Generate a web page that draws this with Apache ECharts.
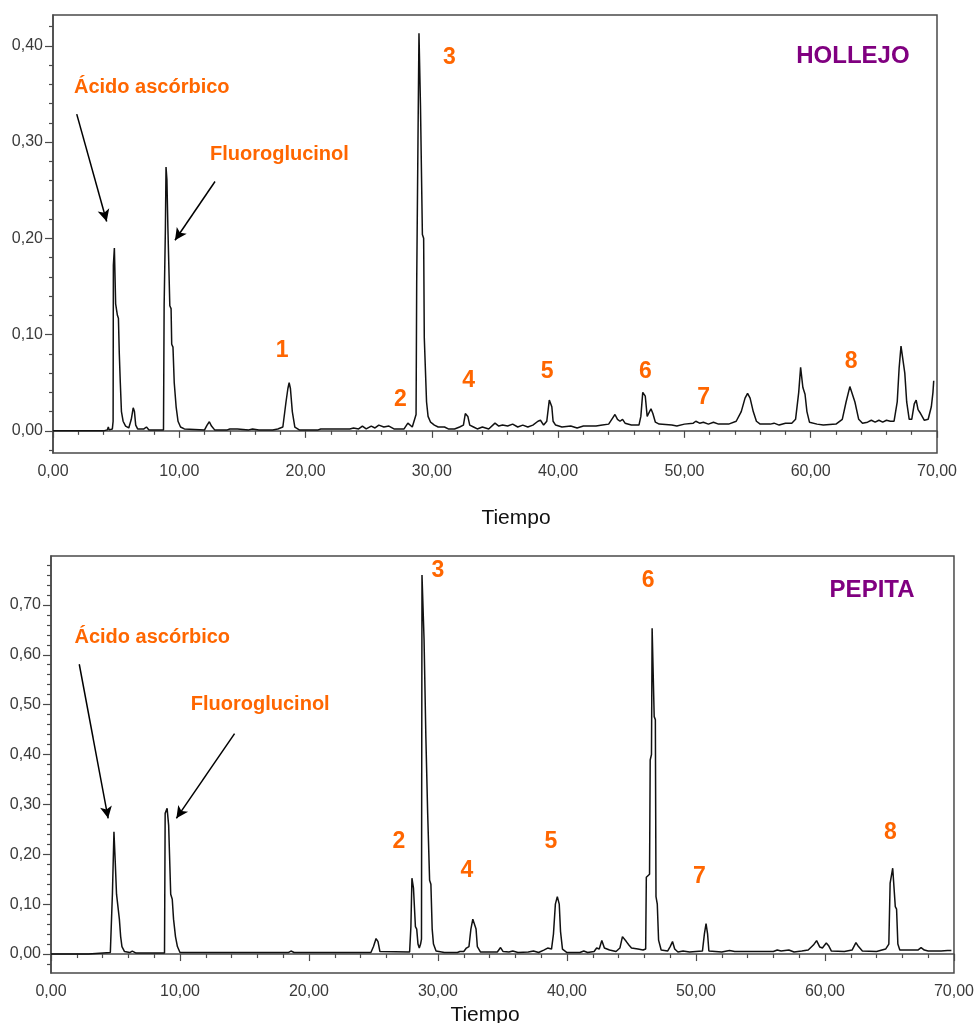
<!DOCTYPE html>
<html>
<head>
<meta charset="utf-8">
<title>Cromatogramas hollejo / pepita</title>
<script src="https://cdn.jsdelivr.net/npm/echarts@6/dist/echarts.min.js"></script>
<style>
    html, body { margin: 0; padding: 0; background: #fff; }
    #chart { width: 977px; height: 1023px; }
</style>
</head>
<body>
<div id="chart"></div>
<script type="text/javascript">
    // HOLLEJO
    var topTime = [0, 4.0, 4.3, 4.38, 4.45, 4.7, 4.76, 4.78, 4.84, 4.86, 4.92, 4.96, 5.05, 5.1, 5.18, 5.25, 5.33, 5.42, 5.55, 5.75,
        6.0, 6.2, 6.35, 6.45, 6.55, 6.7, 7.2, 7.4, 7.6, 8.75, 8.8, 8.9, 8.95, 9.0, 9.02, 9.08, 9.1, 9.2, 9.25, 9.35,
        9.4, 9.5, 9.6, 9.75, 9.9, 10.1, 10.4, 12.0, 12.2, 12.38, 12.55, 12.8, 13.8, 14.0, 14.6, 15.5, 15.8, 16.3, 17.4, 17.8,
        18.2, 18.45, 18.6, 18.7, 18.8, 18.95, 19.15, 19.5, 21.0, 21.2, 23.5, 23.8, 24.2, 24.5, 24.8, 25.2, 25.5, 25.8, 26.2, 26.6,
        27.0, 27.8, 28.1, 28.25, 28.45, 28.6, 28.75, 28.8, 28.9, 28.98, 29.05, 29.1, 29.2, 29.25, 29.35, 29.4, 29.5, 29.58, 29.7, 29.9,
        30.2, 30.5, 31.0, 31.3, 31.8, 32.2, 32.5, 32.65, 32.75, 32.85, 33.0, 33.3, 33.6, 34.0, 34.5, 35.0, 35.3, 35.6, 36.0, 36.4,
        36.8, 37.2, 37.6, 38.0, 38.4, 38.6, 38.85, 39.1, 39.3, 39.4, 39.5, 39.6, 39.8, 40.3, 41.0, 41.5, 42.0, 43.0, 43.5, 44.0,
        44.35, 44.5, 44.7, 44.9, 45.1, 45.3, 45.8, 46.4, 46.55, 46.7, 46.8, 46.9, 47.05, 47.2, 47.35, 47.5, 47.7, 48.0, 49.0, 49.4,
        50.0, 50.7, 50.9, 51.2, 51.5, 51.9, 52.3, 52.7, 53.5, 54.1, 54.5, 54.8, 55.0, 55.2, 55.45, 55.7, 56.0, 56.8, 57.1, 57.5,
        58.0, 58.5, 58.8, 59.05, 59.2, 59.3, 59.38, 59.55, 59.7, 59.9, 60.5, 61.0, 62.0, 62.5, 62.8, 63.1, 63.25, 63.5, 63.8, 64.1,
        64.5, 64.8, 65.1, 65.4, 65.7, 66.0, 66.3, 66.6, 66.85, 67.0, 67.15, 67.3, 67.45, 67.6, 67.8, 68.0, 68.2, 68.35, 68.5, 68.7,
        69.0, 69.3, 69.55, 69.68, 69.74];
    var topAbs = [0, 0, 0.001, 0.004, 0.001, 0.002, 0.01, 0.172, 0.172, 0.19, 0.19, 0.132, 0.13, 0.12, 0.117, 0.08, 0.05, 0.02, 0.01, 0.005,
        0.003, 0.012, 0.024, 0.02, 0.006, 0.002, 0.002, 0.004, 0.001, 0.001, 0.13, 0.21, 0.274, 0.274, 0.261, 0.261, 0.21, 0.21, 0.13, 0.127,
        0.09, 0.087, 0.05, 0.025, 0.01, 0.004, 0.002, 0.001, 0.006, 0.0095, 0.005, 0.001, 0.001, 0.002, 0.002, 0.001, 0.002, 0.001, 0.001, 0.002,
        0.004, 0.03, 0.044, 0.05, 0.044, 0.02, 0.004, 0.001, 0.001, 0.002, 0.002, 0.003, 0.002, 0.005, 0.002, 0.005, 0.003, 0.006, 0.004, 0.005,
        0.002, 0.002, 0.008, 0.009, 0.004, 0.006, 0.017, 0.155, 0.3, 0.413, 0.413, 0.337, 0.336, 0.204, 0.2, 0.097, 0.095, 0.03, 0.015, 0.009,
        0.006, 0.004, 0.004, 0.002, 0.002, 0.004, 0.006, 0.018, 0.02, 0.015, 0.006, 0.004, 0.002, 0.004, 0.002, 0.008, 0.005, 0.006, 0.005, 0.007,
        0.004, 0.006, 0.004, 0.006, 0.01, 0.011, 0.006, 0.01, 0.032, 0.034, 0.025, 0.01, 0.006, 0.004, 0.005, 0.003, 0.005, 0.005, 0.006, 0.007,
        0.014, 0.017, 0.012, 0.01, 0.012, 0.008, 0.006, 0.006, 0.015, 0.04, 0.042, 0.036, 0.015, 0.017, 0.023, 0.018, 0.009, 0.007, 0.006, 0.005,
        0.007, 0.008, 0.01, 0.008, 0.009, 0.007, 0.009, 0.007, 0.007, 0.01, 0.02, 0.034, 0.039, 0.034, 0.02, 0.01, 0.007, 0.007, 0.008, 0.006,
        0.008, 0.008, 0.012, 0.04, 0.066, 0.067, 0.045, 0.038, 0.02, 0.009, 0.007, 0.006, 0.007, 0.012, 0.03, 0.046, 0.045, 0.03, 0.012, 0.008,
        0.009, 0.011, 0.009, 0.011, 0.009, 0.011, 0.01, 0.01, 0.03, 0.065, 0.088, 0.086, 0.06, 0.03, 0.012, 0.012, 0.028, 0.032, 0.022, 0.018,
        0.011, 0.012, 0.025, 0.04, 0.052];

    // PEPITA
    var bottomTime = [0, 2.9, 3.0, 4.6, 4.72, 4.76, 4.85, 4.88, 4.95, 4.98, 5.05, 5.08, 5.22, 5.3, 5.4, 5.5, 5.7, 6.1, 6.3, 6.45,
        6.6, 8.8, 8.85, 8.95, 9.0, 9.08, 9.12, 9.2, 9.28, 9.4, 9.5, 9.65, 9.8, 10.0, 13.4, 13.55, 13.75, 18.4, 18.6, 18.85,
        24.8, 25.0, 25.2, 25.35, 25.5, 27.8, 27.9, 27.98, 28.05, 28.1, 28.2, 28.25, 28.35, 28.45, 28.55, 28.65, 28.72, 28.76, 28.88, 28.92,
        29.02, 29.06, 29.15, 29.2, 29.3, 29.35, 29.45, 29.55, 29.65, 29.85, 30.5, 31.5, 31.7, 32.0, 32.2, 32.4, 32.55, 32.7, 32.85, 32.95,
        33.05, 33.3, 34.6, 34.85, 35.05, 35.5, 35.8, 36.2, 37.0, 37.4, 37.8, 38.2, 38.5, 38.8, 38.95, 39.1, 39.25, 39.4, 39.5, 39.65,
        40.0, 41.0, 41.3, 41.6, 42.1, 42.3, 42.5, 42.7, 42.9, 43.3, 43.8, 44.1, 44.3, 44.45, 44.6, 44.8, 45.0, 45.5, 45.9, 46.1,
        46.15, 46.4, 46.45, 46.55, 46.6, 46.72, 46.76, 46.85, 46.9, 47.0, 47.1, 47.3, 47.8, 48.0, 48.18, 48.35, 48.6, 49.0, 49.5, 50.0,
        50.5, 50.65, 50.78, 50.9, 51.0, 51.5, 52.0, 52.6, 53.0, 56.0, 56.3, 56.6, 57.2, 57.6, 58.2, 58.7, 59.1, 59.35, 59.6, 59.8,
        60.1, 60.3, 60.5, 61.5, 62.1, 62.4, 62.6, 62.9, 64.0, 64.7, 64.95, 65.05, 65.2, 65.25, 65.4, 65.45, 65.55, 65.65, 65.8, 67.2,
        67.45, 67.7, 68.0, 69.0, 69.5, 69.8];
    var bottomAbs = [0, 0, 0.003, 0.003, 0.005, 0.12, 0.12, 0.245, 0.245, 0.185, 0.185, 0.12, 0.12, 0.07, 0.035, 0.015, 0.005, 0.003, 0.006, 0.005,
        0.002, 0.002, 0.282, 0.282, 0.292, 0.292, 0.258, 0.255, 0.12, 0.11, 0.07, 0.035, 0.015, 0.003, 0.003, 0.006, 0.003, 0.003, 0.006, 0.003,
        0.003, 0.015, 0.031, 0.025, 0.005, 0.004, 0.055, 0.152, 0.152, 0.132, 0.13, 0.055, 0.05, 0.02, 0.012, 0.02, 0.03, 0.76, 0.76, 0.63,
        0.63, 0.435, 0.435, 0.282, 0.28, 0.148, 0.14, 0.05, 0.02, 0.006, 0.003, 0.003, 0.005, 0.005, 0.012, 0.015, 0.05, 0.07, 0.0715, 0.05,
        0.015, 0.004, 0.004, 0.013, 0.005, 0.004, 0.006, 0.003, 0.004, 0.006, 0.003, 0.008, 0.012, 0.01, 0.04, 0.1, 0.115, 0.1, 0.045, 0.01,
        0.003, 0.003, 0.006, 0.003, 0.005, 0.012, 0.01, 0.027, 0.012, 0.008, 0.005, 0.012, 0.035, 0.038, 0.025, 0.018, 0.012, 0.01, 0.008, 0.01,
        0.154, 0.16, 0.389, 0.4, 0.653, 0.653, 0.476, 0.47, 0.115, 0.1, 0.028, 0.008, 0.006, 0.015, 0.025, 0.01, 0.004, 0.006, 0.004, 0.005,
        0.006, 0.04, 0.061, 0.04, 0.006, 0.005, 0.004, 0.007, 0.005, 0.005, 0.008, 0.006, 0.008, 0.004, 0.006, 0.008, 0.018, 0.027, 0.014, 0.012,
        0.022, 0.016, 0.006, 0.005, 0.008, 0.023, 0.015, 0.006, 0.005, 0.01, 0.02, 0.142, 0.142, 0.172, 0.17, 0.095, 0.09, 0.02, 0.008, 0.008,
        0.013, 0.008, 0.006, 0.006, 0.007, 0.007];

    // ---- ejes ----
    var xTickLabels = [0, 10, 20, 30, 40, 50, 60, 70];
    var topYLabels = [0, 0.1, 0.2, 0.3, 0.4];
    var topYMinor = [-0.02, 0.02, 0.04, 0.06, 0.08, 0.12, 0.14, 0.16, 0.18, 0.22, 0.24, 0.26, 0.28, 0.32, 0.34, 0.36, 0.38, 0.42];
    var bottomYLabels = [0, 0.1, 0.2, 0.3, 0.4, 0.5, 0.6, 0.7];
    var bottomYMinor = [-0.02, 0.02, 0.04, 0.06, 0.08, 0.12, 0.14, 0.16, 0.18, 0.22, 0.24, 0.26, 0.28, 0.32, 0.34, 0.36, 0.38,
        0.42, 0.44, 0.46, 0.48, 0.52, 0.54, 0.56, 0.58, 0.62, 0.64, 0.66, 0.68, 0.72, 0.74, 0.76, 0.78];

    // ---- anotaciones (texto + posición en coordenadas de datos) ----
    var topNotes = ['Ácido ascórbico', 'Fluoroglucinol', '1', '2', '3', '4', '5', '6', '7', '8', 'HOLLEJO'];
    var topNoteAt = [[7.82, 0.357], [17.93, 0.287], [18.14, 0.083], [27.5, 0.032], [31.39, 0.388], [32.92, 0.052],
        [39.13, 0.062], [46.91, 0.062], [51.53, 0.035], [63.2, 0.072], [63.34, 0.389]];
    var bottomNotes = ['Ácido ascórbico', 'Fluoroglucinol', '2', '3', '4', '5', '6', '7', '8', 'PEPITA'];
    var bottomNoteAt = [[7.85, 0.635], [16.22, 0.501], [26.97, 0.225], [29.99, 0.768], [32.24, 0.167], [38.76, 0.225],
        [46.29, 0.748], [50.26, 0.155], [65.07, 0.244], [63.65, 0.729]];
    // flechas: [inicio, punta]
    var topArrows = [[[1.88, 0.329], [4.25, 0.2175]], [[12.83, 0.259], [9.66, 0.198]]];
    var bottomArrows = [[[2.19, 0.581], [4.43, 0.272]], [[14.23, 0.442], [9.72, 0.272]]];

    var AXIS_COLOR = '#4a4a4a';
    var ORANGE = '#ff6600';
    var PURPLE = '#800080';
    var FONT = 'Liberation Sans, Arial, sans-serif';

    function zip(a, b) {
        var out = [];
        for (var i = 0; i < a.length; i++) out.push([a[i], b[i]]);
        return out;
    }
    function fmt(v) {
        return v.toFixed(2).replace('.', ',');
    }
    function noteStyle(text) {
        if (text === 'HOLLEJO' || text === 'PEPITA') return {color: PURPLE, fontSize: 24};
        if (text.length === 1) return {color: ORANGE, fontSize: 23};
        return {color: ORANGE, fontSize: 20};
    }
    function noteData(texts, pos) {
        var out = [];
        for (var i = 0; i < texts.length; i++) {
            var s = noteStyle(texts[i]);
            out.push({
                value: [pos[i][0], pos[i][1], texts[i]],
                label: {color: s.color, fontSize: s.fontSize}
            });
        }
        return out;
    }
    function arrowData(arr) {
        var out = [];
        for (var i = 0; i < arr.length; i++) {
            out.push([{coord: arr[i][0]}, {coord: arr[i][1]}]);
        }
        return out;
    }

    function xAxisFor(idx) {
        return {
            gridIndex: idx, type: 'value', min: 0, max: 70, interval: 10,
            axisLine: {show: true, lineStyle: {color: AXIS_COLOR, width: 1.5}},
            axisTick: {show: true, length: 7, lineStyle: {color: AXIS_COLOR, width: 1.2}},
            minorTick: {show: true, splitNumber: 5, length: 4, lineStyle: {color: AXIS_COLOR, width: 1.2}},
            splitLine: {show: false},
            axisLabel: {
                margin: 11, fontSize: 16, color: '#3a3a3a', fontFamily: FONT,
                customValues: xTickLabels, formatter: fmt
            }
        };
    }
    function yAxesFor(idx, min, max, labels, minor) {
        return [{
            gridIndex: idx, type: 'value', min: min, max: max,
            axisLine: {show: true, lineStyle: {color: AXIS_COLOR, width: 1.5}},
            axisTick: {show: true, length: 8, customValues: labels, lineStyle: {color: AXIS_COLOR, width: 1.2}},
            splitLine: {show: false},
            axisLabel: {
                margin: 10, fontSize: 16, color: '#3a3a3a', fontFamily: FONT,
                customValues: labels, formatter: fmt
            }
        }, {
            gridIndex: idx, type: 'value', min: min, max: max, position: 'left',
            axisLine: {show: false},
            axisTick: {show: true, length: 4, customValues: minor, lineStyle: {color: AXIS_COLOR, width: 1.2}},
            splitLine: {show: false},
            axisLabel: {show: false}
        }];
    }

    var myChart = echarts.init(document.getElementById('chart'));
    var yTop = yAxesFor(0, -0.023, 0.432, topYLabels, topYMinor);
    var yBottom = yAxesFor(1, -0.038, 0.798, bottomYLabels, bottomYMinor);

    var option = {
        animation: false,
        backgroundColor: '#fff',
        grid: [
            {left: 53, top: 15, width: 884, height: 438, show: true, borderColor: AXIS_COLOR, borderWidth: 1.5},
            {left: 51, top: 556, width: 905, height: 417, show: true, borderColor: AXIS_COLOR, borderWidth: 1.5}
        ],
        xAxis: [xAxisFor(0), xAxisFor(1)],
        yAxis: [yTop[0], yTop[1], yBottom[0], yBottom[1]],
        graphic: [
            {type: 'text', x: 516, y: 518, style: {text: 'Tiempo', fontSize: 21, fontFamily: FONT, fill: '#111', align: 'center', verticalAlign: 'middle'}},
            {type: 'text', x: 485, y: 1015, style: {text: 'Tiempo', fontSize: 21, fontFamily: FONT, fill: '#111', align: 'center', verticalAlign: 'middle'}}
        ],
        series: [
            {
                name: 'HOLLEJO', type: 'line', xAxisIndex: 0, yAxisIndex: 0,
                data: zip(topTime, topAbs), symbol: 'none',
                lineStyle: {color: '#111', width: 1.5},
                markLine: {
                    silent: true, symbol: ['none', 'arrow'], symbolSize: [9, 12],
                    label: {show: false},
                    lineStyle: {color: '#000', width: 1.5, type: 'solid'},
                    data: arrowData(topArrows)
                }
            },
            {
                name: 'PEPITA', type: 'line', xAxisIndex: 1, yAxisIndex: 2,
                data: zip(bottomTime, bottomAbs), symbol: 'none',
                lineStyle: {color: '#111', width: 1.5},
                markLine: {
                    silent: true, symbol: ['none', 'arrow'], symbolSize: [9, 12],
                    label: {show: false},
                    lineStyle: {color: '#000', width: 1.5, type: 'solid'},
                    data: arrowData(bottomArrows)
                }
            },
            {
                type: 'scatter', xAxisIndex: 0, yAxisIndex: 0, silent: true,
                symbolSize: 1, itemStyle: {color: 'rgba(0,0,0,0)', opacity: 1},
                label: {show: true, position: 'inside', fontWeight: 'bold', fontFamily: FONT,
                    formatter: function (p) { return p.value[2]; }},
                data: noteData(topNotes, topNoteAt)
            },
            {
                type: 'scatter', xAxisIndex: 1, yAxisIndex: 2, silent: true,
                symbolSize: 1, itemStyle: {color: 'rgba(0,0,0,0)', opacity: 1},
                label: {show: true, position: 'inside', fontWeight: 'bold', fontFamily: FONT,
                    formatter: function (p) { return p.value[2]; }},
                data: noteData(bottomNotes, bottomNoteAt)
            }
        ]
    };
    myChart.setOption(option);
</script>
</body>
</html>
